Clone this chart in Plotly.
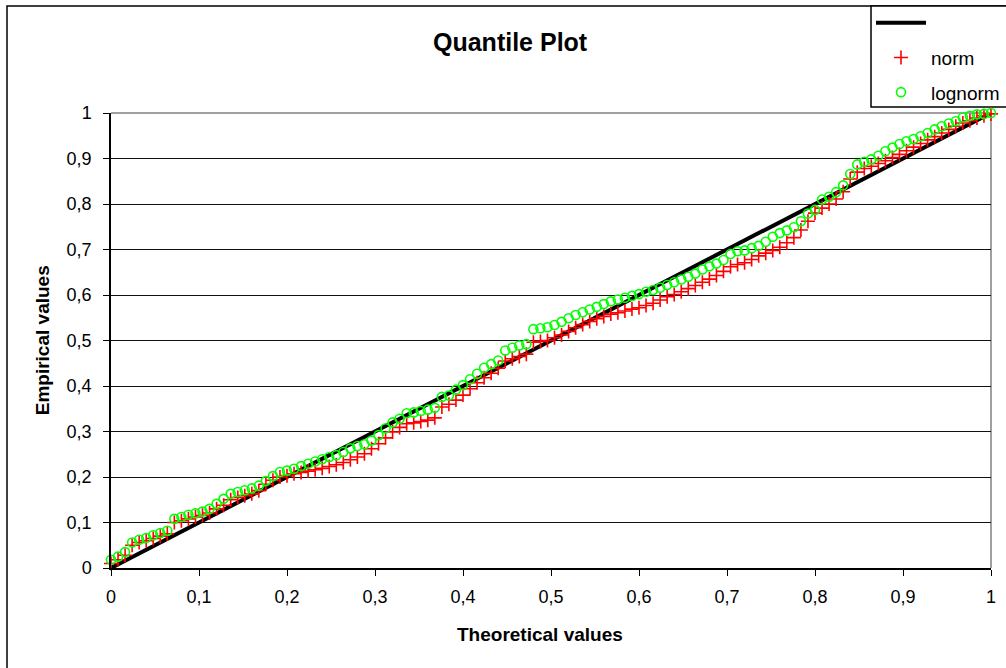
import plotly.graph_objects as go

# ---------------- data ----------------
theoretical = [
    0.000, 0.008, 0.016, 0.024, 0.032, 0.040, 0.048, 0.056, 0.064, 0.072,
    0.080, 0.088, 0.096, 0.104, 0.112, 0.120, 0.128, 0.136, 0.144, 0.152,
    0.160, 0.168, 0.176, 0.184, 0.192, 0.200, 0.208, 0.216, 0.224, 0.232,
    0.240, 0.248, 0.256, 0.264, 0.272, 0.280, 0.288, 0.296, 0.304, 0.312,
    0.320, 0.328, 0.336, 0.344, 0.352, 0.360, 0.368, 0.376, 0.384, 0.392,
    0.400, 0.408, 0.416, 0.424, 0.432, 0.440, 0.448, 0.456, 0.464, 0.472,
    0.480, 0.488, 0.496, 0.504, 0.512, 0.520, 0.528, 0.536, 0.544, 0.552,
    0.560, 0.568, 0.576, 0.584, 0.592, 0.600, 0.608, 0.616, 0.624, 0.632,
    0.640, 0.648, 0.656, 0.664, 0.672, 0.680, 0.688, 0.696, 0.704, 0.712,
    0.720, 0.728, 0.736, 0.744, 0.752, 0.760, 0.768, 0.776, 0.784, 0.792,
    0.800, 0.808, 0.816, 0.824, 0.832, 0.840, 0.848, 0.856, 0.864, 0.872,
    0.880, 0.888, 0.896, 0.904, 0.912, 0.920, 0.928, 0.936, 0.944, 0.952,
    0.960, 0.968, 0.976, 0.984, 0.992, 1.000,
]

norm_empirical = [
    0.010, 0.018, 0.028, 0.050, 0.056, 0.060, 0.065, 0.070, 0.075, 0.100,
    0.104, 0.108, 0.112, 0.116, 0.121, 0.130, 0.138, 0.150, 0.155, 0.159,
    0.163, 0.170, 0.184, 0.193, 0.200, 0.203, 0.207, 0.210, 0.213, 0.216,
    0.219, 0.223, 0.227, 0.232, 0.238, 0.244, 0.251, 0.262, 0.273, 0.286,
    0.299, 0.309, 0.317, 0.319, 0.322, 0.325, 0.330, 0.354, 0.360, 0.369,
    0.380, 0.394, 0.407, 0.418, 0.428, 0.439, 0.455, 0.460, 0.465, 0.470,
    0.496, 0.498, 0.500, 0.506, 0.512, 0.520, 0.528, 0.535, 0.542, 0.548,
    0.553, 0.558, 0.561, 0.565, 0.569, 0.572, 0.577, 0.582, 0.589, 0.596,
    0.601, 0.607, 0.614, 0.621, 0.628, 0.635, 0.643, 0.652, 0.662, 0.667,
    0.671, 0.678, 0.686, 0.692, 0.698, 0.705, 0.715, 0.726, 0.743, 0.762,
    0.780, 0.791, 0.800, 0.811, 0.827, 0.855, 0.870, 0.878, 0.883, 0.889,
    0.895, 0.902, 0.909, 0.917, 0.925, 0.933, 0.941, 0.948, 0.956, 0.964,
    0.971, 0.978, 0.983, 0.989, 0.994, 0.998,
]

lognorm_empirical = [
    0.018, 0.025, 0.035, 0.056, 0.062, 0.066, 0.072, 0.077, 0.082, 0.108,
    0.112, 0.117, 0.120, 0.124, 0.130, 0.141, 0.152, 0.163, 0.167, 0.171,
    0.175, 0.181, 0.191, 0.202, 0.211, 0.214, 0.218, 0.224, 0.229, 0.234,
    0.239, 0.244, 0.248, 0.255, 0.263, 0.268, 0.272, 0.280, 0.292, 0.307,
    0.320, 0.328, 0.340, 0.342, 0.345, 0.348, 0.352, 0.376, 0.379, 0.392,
    0.402, 0.415, 0.427, 0.440, 0.448, 0.456, 0.478, 0.484, 0.489, 0.492,
    0.525, 0.527, 0.529, 0.534, 0.541, 0.549, 0.556, 0.562, 0.568, 0.574,
    0.580, 0.586, 0.590, 0.594, 0.598, 0.602, 0.607, 0.611, 0.616, 0.622,
    0.628, 0.634, 0.640, 0.647, 0.656, 0.663, 0.669, 0.677, 0.690, 0.696,
    0.698, 0.703, 0.708, 0.717, 0.728, 0.736, 0.742, 0.749, 0.762, 0.779,
    0.787, 0.810, 0.816, 0.826, 0.841, 0.866, 0.887, 0.893, 0.898, 0.906,
    0.916, 0.924, 0.932, 0.938, 0.943, 0.949, 0.956, 0.964, 0.971, 0.977,
    0.982, 0.990, 0.994, 0.997, 0.998, 1.000,
]

reference_x = [0, 1]
reference_y = [0, 1]

tick_values = [0, 0.1, 0.2, 0.3, 0.4, 0.5, 0.6, 0.7, 0.8, 0.9, 1]
tick_labels = ["0", "0,1", "0,2", "0,3", "0,4", "0,5", "0,6", "0,7", "0,8", "0,9", "1"]

FONT = "Liberation Sans, Arial, sans-serif"

# ---------------- figure ----------------
fig = go.Figure()

fig.add_trace(go.Scatter(
    x=reference_x, y=reference_y, mode="lines", name=" ",
    line=dict(color="black", width=4), legendgroup="a", cliponaxis=False,
))
fig.add_trace(go.Scatter(
    x=theoretical, y=norm_empirical, mode="markers", name="norm",
    marker=dict(symbol="cross-thin", size=10, color="#ff0000",
                line=dict(color="#ff0000", width=1.6)),
    legendgroup="b", cliponaxis=False,
))
fig.add_trace(go.Scatter(
    x=theoretical, y=lognorm_empirical, mode="markers", name="lognorm",
    marker=dict(symbol="circle-open", size=9, color="#00ff00",
                line=dict(color="#00ff00", width=1.6)),
    legendgroup="c", cliponaxis=False,
))

# pixel -> paper helpers (plot area: x 111..991, y 567.5..113)
def px(p):
    return (p - 111) / 880.0

def py(p):
    return (567.5 - p) / 454.5

fig.update_layout(
    width=1006, height=668,
    margin=dict(l=111, r=15, t=113, b=100, pad=0, autoexpand=False),
    paper_bgcolor="white", plot_bgcolor="white",
    font=dict(family=FONT, size=18, color="black"),
    showlegend=True,
    legend=dict(
        x=px(871), y=py(4), xanchor="left", yanchor="top",
        bgcolor="rgba(0,0,0,0)", borderwidth=0,
        font=dict(family=FONT, size=19, color="black"),
        traceorder="grouped", tracegroupgap=7, itemwidth=50,
    ),
    xaxis=dict(
        range=[0, 1], tickvals=tick_values, ticktext=tick_labels,
        showgrid=False, zeroline=False,
        showline=True, linecolor="black", linewidth=1.5,
        ticks="outside", ticklen=6, tickwidth=1.2, tickcolor="black",
        ticklabelstandoff=6,
        tickfont=dict(family=FONT, size=18, color="black"),
    ),
    yaxis=dict(
        range=[0, 1], tickvals=tick_values, ticktext=tick_labels,
        showgrid=True, gridcolor="#111111", gridwidth=1,
        zeroline=False,
        showline=True, linecolor="black", linewidth=1.5,
        ticks="outside", ticklen=6, tickwidth=1.2, tickcolor="black",
        ticklabelstandoff=8,
        tickfont=dict(family=FONT, size=18, color="black"),
    ),
    annotations=[
        dict(text="<b>Quantile Plot</b>", xref="paper", yref="paper",
             x=px(510), y=py(42), xanchor="center", yanchor="middle",
             showarrow=False, font=dict(family=FONT, size=25, color="black")),
        dict(text="<b>Theoretical values</b>", xref="paper", yref="paper",
             x=px(540), y=py(634), xanchor="center", yanchor="middle",
             showarrow=False, font=dict(family=FONT, size=19, color="black")),
        dict(text="<b>Empirical values</b>", xref="paper", yref="paper",
             x=px(42), y=py(340), xanchor="center", yanchor="middle",
             textangle=-90,
             showarrow=False, font=dict(family=FONT, size=19, color="black")),
    ],
    shapes=[
        # outer chart border
        dict(type="rect", xref="paper", yref="paper",
             x0=px(7), x1=px(1015), y0=py(675), y1=py(6),
             line=dict(color="black", width=1.5), fillcolor="rgba(0,0,0,0)",
             layer="below"),
        # legend box
        dict(type="rect", xref="paper", yref="paper",
             x0=px(871), x1=px(1015), y0=py(107), y1=py(6),
             line=dict(color="black", width=1.5), fillcolor="white",
             layer="below"),
        # plot-area top and right border (grey)
        dict(type="line", xref="paper", yref="paper",
             x0=0, x1=1, y0=1, y1=1, line=dict(color="#808080", width=1.5),
             layer="below"),
        dict(type="line", xref="paper", yref="paper",
             x0=1, x1=1, y0=0, y1=1, line=dict(color="#808080", width=1.5),
             layer="below"),
    ],
)

fig.write_html(
    "out.html",
    config={"responsive": False, "displayModeBar": False},
    post_script="document.body.style.margin='0';"
                "document.documentElement.style.overflow='hidden';"
                "document.body.style.overflow='hidden';",
)
